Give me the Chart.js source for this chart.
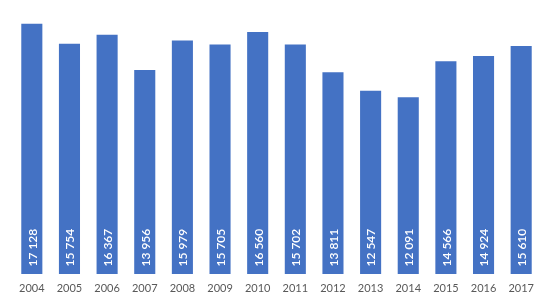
<!DOCTYPE html>
<html><head><meta charset="utf-8">
<script src="https://cdn.jsdelivr.net/npm/chart.js@4/dist/chart.umd.min.js"></script>
<style>html,body{margin:0;padding:0;background:#fff}#wrap{width:560px;height:293px}</style>
</head><body><div id="wrap"><canvas id="c"></canvas></div>
<script>
const years = ['2004','2005','2006','2007','2008','2009','2010','2011','2012','2013','2014','2015','2016','2017'];
const values = [17128,15754,16367,13956,15979,15705,16560,15702,13811,12547,12091,14566,14924,15610];
const valueLabels = ['17 128','15 754','16 367','13 956','15 979','15 705','16 560','15 702','13 811','12 547','12 091','14 566','14 924','15 610'];

const insideLabels = {
  id:'insideLabels',
  afterDatasetsDraw(chart){
    const ctx = chart.ctx;
    const meta = chart.getDatasetMeta(0);
    ctx.save();
    ctx.fillStyle = '#ffffff';
    ctx.font = '600 12px Lato, "Open Sans", sans-serif';
    ctx.textAlign = 'left';
    ctx.textBaseline = 'middle';
    meta.data.forEach((bar,i)=>{
      ctx.save();
      ctx.translate(bar.x+1, bar.base - 7.5);
      ctx.rotate(-Math.PI/2);
      ctx.fillText(valueLabels[i],0,0);
      ctx.restore();
    });
    ctx.restore();
  }
};

new Chart(document.getElementById('c'),{
  type:'bar',
  data:{labels:years,datasets:[{data:values,backgroundColor:'#4472C4',barPercentage:0.56,categoryPercentage:1.0}]},
  options:{
    responsive:true,maintainAspectRatio:false,animation:false,
    layout:{padding:{left:13,right:20,top:11,bottom:0}},
    plugins:{legend:{display:false},tooltip:{enabled:false}},
    scales:{
      x:{grid:{display:false,drawTicks:false},border:{display:false},
         afterFit(scale){scale.height = 19;},
         ticks:{color:'#595959',font:{family:'Lato, "Open Sans", sans-serif',size:11},padding:8,maxRotation:0}},
      y:{display:false,min:0,max:18000}
    }
  },
  plugins:[insideLabels]
});
</script></body></html>
